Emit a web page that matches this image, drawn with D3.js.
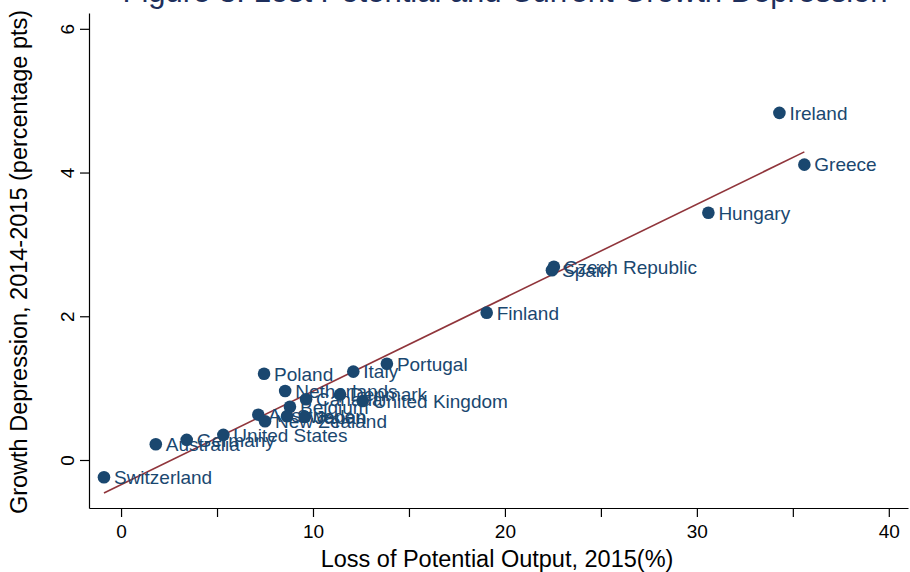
<!DOCTYPE html>
<html><head><meta charset="utf-8">
<script src="https://cdn.jsdelivr.net/npm/d3@7"></script>
<style>body{margin:0;background:#fff}svg{display:block;font-family:"Liberation Sans",Arial,sans-serif}</style>
</head><body><svg id="c" width="910" height="572"></svg>
<script>
const countries = ["Ireland","Greece","Hungary","Czech Republic","Spain","Finland","Portugal","Italy","Poland","Netherlands","Canada","Denmark","United Kingdom","Belgium","Austria","Sweden","Japan","New Zealand","United States","Germany","Australia","Switzerland"];
const lossPotential = [34.3,35.6,30.6,22.55,22.45,19.05,13.85,12.1,7.45,8.55,9.64,11.41,12.59,8.8,7.15,8.65,9.58,7.5,5.33,3.42,1.81,-0.89];
const growthDepression = [4.83,4.11,3.44,2.69,2.64,2.05,1.34,1.23,1.2,0.96,0.845,0.91,0.82,0.74,0.63,0.61,0.6,0.54,0.35,0.28,0.22,-0.24];
const xTicks = [0,10,20,30,40];
const xMinorTicks = [5,15,25,35];
const yTicks = [0,2,4,6];
const fitIntercept = -0.344, fitSlope = 0.1301;
const title = "Figure 3: Lost Potential and Current Growth Depression";

const svg = d3.select("#c");
const navy = "#1a476f", maroon = "#90353b";
const x = d3.scaleLinear().domain([-1.67, 41]).range([89, 908]);
const y = d3.scaleLinear().domain([-0.668, 6.22]).range([508, 13]);

svg.append("text").attr("x",505).attr("y",1.5).attr("text-anchor","middle")
  .attr("font-size",31).attr("fill","#1e2f5c").text(title);

// axes
const xAxis = svg.append("g").attr("transform","translate(0,508)")
  .call(d3.axisBottom(x).tickValues(xTicks).tickSize(9).tickSizeOuter(0).tickFormat(d3.format("d")));
svg.append("g").attr("transform","translate(0,508)")
  .call(d3.axisBottom(x).tickValues(xMinorTicks).tickSize(9).tickSizeOuter(0).tickFormat(""))
  .select(".domain").remove();
xAxis.selectAll("text").attr("font-size",19).attr("dy","0.95em").attr("fill","#000");
const yAxis = svg.append("g").attr("transform","translate(89,0)")
  .call(d3.axisLeft(y).tickValues(yTicks).tickSize(9).tickSizeOuter(0).tickFormat(d3.format("d")));
yAxis.selectAll("text").attr("font-size",19).attr("fill","#000")
  .attr("text-anchor","middle").attr("x",0).attr("y",0).attr("dy",0)
  .attr("transform","translate(-15,0) rotate(-90)");
svg.selectAll(".domain, .tick line").attr("stroke","#000").attr("stroke-width",1.2);
svg.selectAll("g").attr("font-family",null);

svg.append("text").attr("x",497).attr("y",567).attr("text-anchor","middle")
  .attr("font-size",23.5).attr("fill","#000")
  .text("Loss of Potential Output, 2015(%)");
svg.append("text").attr("transform","translate(27,262) rotate(-90)").attr("text-anchor","middle")
  .attr("font-size",23.5).attr("fill","#000")
  .text("Growth Depression, 2014-2015 (percentage pts)");

// fit line
const xmin = d3.min(lossPotential), xmax = d3.max(lossPotential);
svg.append("line")
  .attr("x1",x(xmin)).attr("y1",y(fitIntercept+fitSlope*xmin))
  .attr("x2",x(xmax)).attr("y2",y(fitIntercept+fitSlope*xmax))
  .attr("stroke",maroon).attr("stroke-width",1.6);

const data = countries.map((c,i)=>({c, x:lossPotential[i], y:growthDepression[i]}));
const g = svg.append("g");
g.selectAll("circle").data(data).join("circle")
  .attr("cx",d=>x(d.x)).attr("cy",d=>y(d.y)).attr("r",6.3).attr("fill",navy);
g.selectAll("text").data(data).join("text")
  .attr("x",d=>x(d.x)+10).attr("y",d=>y(d.y)).attr("dy","0.36em")
  .attr("font-size",19).attr("fill",navy).text(d=>d.c);
</script></body></html>
